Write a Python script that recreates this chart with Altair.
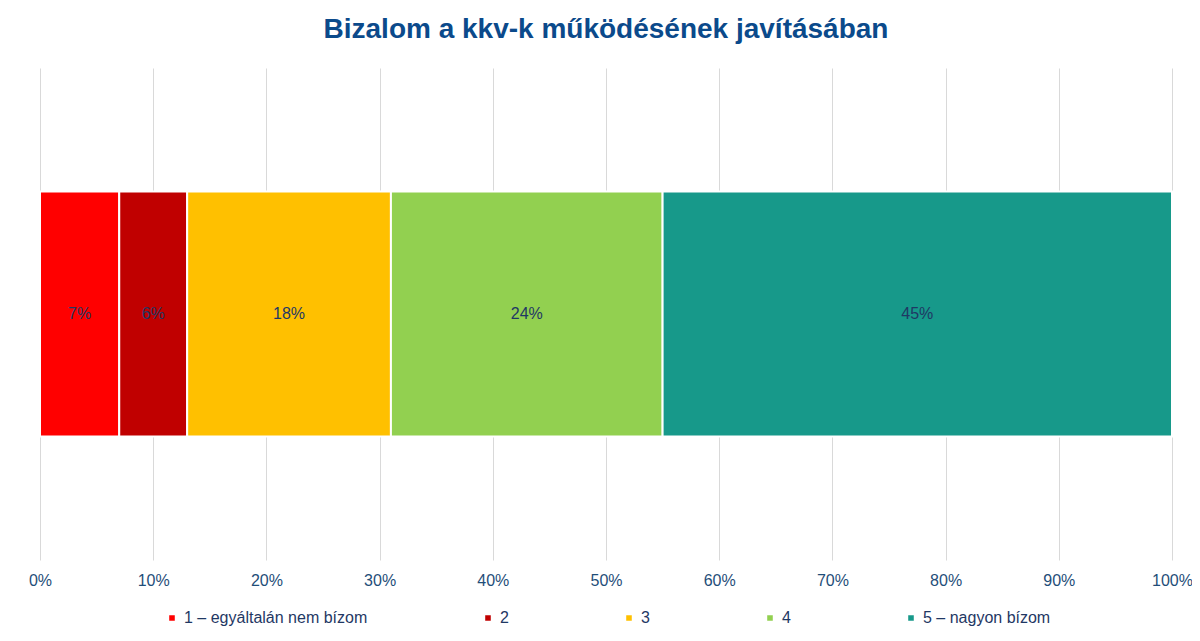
import altair as alt
import pandas as pd

categories = ["1 – egyáltalán nem bízom", "2", "3", "4", "5 – nagyon bízom"]
values = [7, 6, 18, 24, 45]
colors = ["#FF0000", "#C00000", "#FFC000", "#92D050", "#17998A"]
labels = ["7%", "6%", "18%", "24%", "45%"]

df = pd.DataFrame({"cat": categories, "v": values, "lab": labels, "order": range(5), "grp": "a"})
df["end"] = df["v"].cumsum()
df["start"] = df["end"] - df["v"]
df["mid"] = (df["start"] + df["end"]) / 2

xscale = alt.Scale(domain=[0, 100])
yenc = alt.Y("grp:N", axis=None)

bars = alt.Chart(df).mark_bar(size=245, stroke="white", strokeWidth=2).encode(
    x=alt.X("start:Q", scale=xscale, axis=alt.Axis(
        values=list(range(0, 101, 10)), labelExpr="datum.value + '%'", title=None,
        grid=True, gridColor="#D9D9D9", domain=False, ticks=False, labelAlign="center",
        labelFontSize=16, labelColor="#1F4E79", labelPadding=12, labelFont="Liberation Sans")),
    x2="end:Q",
    y=yenc,
    color=alt.Color("cat:N", sort=categories, scale=alt.Scale(domain=categories, range=colors),
                    legend=alt.Legend(title=None, orient="none", direction="horizontal",
                                      legendX=124, legendY=542, labelLimit=0,
                                      symbolType="square", symbolSize=50, columnPadding=112,
                                      labelFontSize=16, labelColor="#1F3864", labelFont="Liberation Sans")),
)

text = alt.Chart(df).mark_text(fontSize=16, color="#1F3864", font="Liberation Sans").encode(
    x=alt.X("mid:Q", scale=xscale), y=yenc, text="lab:N")

chart = (bars + text).properties(
    width=1132, height=492,
    title=alt.TitleParams("Bizalom a kkv-k működésének javításában", fontSize=28, font="Liberation Sans",
                          fontWeight="bold", color="#0B4A8B", anchor="middle", offset=24),
    autosize=alt.AutoSizeParams(type="none"),
    padding={"left": 32, "top": 60, "right": 20, "bottom": 70},
).configure_view(stroke=None)

chart.save("out.html", embed_options={"renderer": "svg", "actions": False})
